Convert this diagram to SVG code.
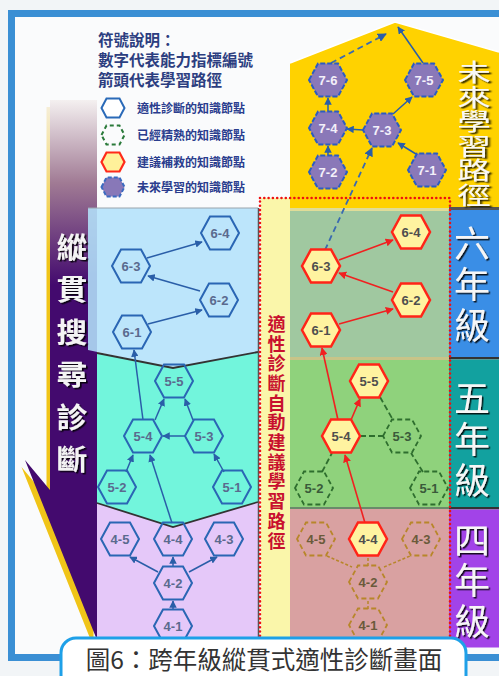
<svg xmlns="http://www.w3.org/2000/svg" width="499" height="676" viewBox="0 0 499 676">
<defs>
<style>
.cjk{font-family:"Noto Sans CJK TC","Noto Sans CJK SC",sans-serif}
.lbl{font-family:"Liberation Sans",Arial,sans-serif;font-size:13px;font-weight:bold;text-anchor:middle}
.hb{fill:none;stroke:#2a66b4;stroke-width:2}
.tb{fill:#5a6a8e}
.hr{fill:#fff3a0;stroke:#ff2418;stroke-width:2.5}
.tr{fill:#4e4e4e}
.hg{fill:none;stroke:#2e6e2e;stroke-width:1.8;stroke-dasharray:5 3}
.tg{fill:#3a5a3a}
.ho{fill:none;stroke:#b8862a;stroke-width:1.8;stroke-dasharray:5 3}
.to{fill:#6a5a3a}
.hp{fill:#8a78b8;stroke:#2c5cc0;stroke-width:2;stroke-dasharray:5 2}
.tp{fill:#f4f0fa}
.cb{stroke:#2a5ea8;stroke-width:1.5;fill:none;marker-end:url(#ab)}
.cr{stroke:#f02020;stroke-width:1.6;fill:none;marker-end:url(#ar)}
.cg{stroke:#2e6e2e;stroke-width:1.8;stroke-dasharray:6 3;fill:none}
.co{stroke:#b8862a;stroke-width:1.5;stroke-dasharray:3 2;fill:none}
.cd{stroke:#3a6ab0;stroke-width:1.8;stroke-dasharray:6 4;fill:none;marker-end:url(#ab)}
.yr{font-size:36px;fill:#f6f6f6;writing-mode:vertical-rl}
.leg{font-size:15.5px;font-weight:bold;fill:#2c3e80}
.legs{font-size:12px;font-weight:bold;fill:#2a3d8e}
</style>
<polygon id="hex" points="-19,0 -10,-16.5 10,-16.5 19,0 10,16.5 -10,16.5"/>
<polygon id="shex" points="-11.5,0 -6.5,-9.5 6.5,-9.5 11.5,0 6.5,9.5 -6.5,9.5"/>
<marker id="ab" viewBox="0 0 10 10" refX="9" refY="5" markerWidth="5" markerHeight="5" orient="auto"><path d="M0,0 L10,5 L0,10 z" fill="#2a5ea8"/></marker>
<marker id="ar" viewBox="0 0 10 10" refX="9" refY="5" markerWidth="5" markerHeight="5" orient="auto"><path d="M0,0 L10,5 L0,10 z" fill="#f02020"/></marker>
<filter id="sh" x="-30%" y="-10%" width="160%" height="120%"><feDropShadow dx="1.5" dy="1.5" stdDeviation="0.6" flood-color="#000" flood-opacity="0.85"/></filter>
<linearGradient id="pg" gradientUnits="userSpaceOnUse" x1="0" y1="100" x2="0" y2="285">
<stop offset="0" stop-color="#f4f0f0"/><stop offset="0.45" stop-color="#a07a94"/><stop offset="1" stop-color="#430a6e"/>
</linearGradient>
<linearGradient id="yg" gradientUnits="userSpaceOnUse" x1="0" y1="100" x2="0" y2="260">
<stop offset="0" stop-color="#f6f0e0"/><stop offset="1" stop-color="#f0c418"/>
</linearGradient>
</defs>

<rect x="0" y="0" width="499" height="676" fill="#f2f5f7"/>
<rect x="11.5" y="13.5" width="492" height="644" fill="#fafbfc" stroke="#3a8fd4" stroke-width="7"/>

<!-- left band -->
<polygon points="46.5,107 93.5,107 93.5,647 21.5,467 46.5,497" fill="url(#yg)"/>
<polygon points="50,100 97,100 97,640 25,460 50,490" fill="url(#pg)"/>

<!-- left panels -->
<polygon points="88,208 258,208 258,352 173,368 88,350" fill="#b3e1fb" fill-opacity="0.88"/>
<line x1="88" y1="208" x2="258" y2="208" stroke="#9aa4ac" stroke-width="1"/>
<polygon points="97,353 173,368 258,352 258,502 173,527 97,503" fill="#72f5dc"/>
<polygon points="97,503 173,527 258,502 258,642 97,642" fill="#e5c8f9"/>
<polyline points="97,353 173,368 258,352" fill="none" stroke="#333" stroke-width="1.8"/>
<polyline points="97,503 173,527 258,502" fill="none" stroke="#333" stroke-width="1.8"/>
<line x1="258.5" y1="208" x2="258.5" y2="642" stroke="#555" stroke-width="1.5"/>

<!-- middle column -->
<rect x="261" y="198" width="29" height="444" fill="#faf6aa"/>

<!-- future pentagon -->
<polygon points="290,63 395,22 499,52 499,208 290,208" fill="#ffd200"/>
<polyline points="290,63 395,22 499,52" fill="none" stroke="#ffffff" stroke-width="1.5"/>

<!-- right panels -->
<rect x="290" y="208" width="159" height="3" fill="#e0dc98"/>
<rect x="290" y="211" width="159" height="146" fill="#a0c8a0"/>
<rect x="290" y="357" width="159" height="3" fill="#c8c488"/>
<rect x="290" y="360" width="159" height="147" fill="#8fd27c"/>
<rect x="290" y="507" width="159" height="2" fill="#6a8a6a"/>
<rect x="290" y="509" width="159" height="133" fill="#d9a1a1"/>

<!-- year column -->
<rect x="449" y="207" width="50" height="3" fill="#555"/>
<rect x="449" y="210" width="50" height="147" fill="#3a8ee6"/>
<rect x="449" y="357" width="50" height="2.5" fill="#333"/>
<rect x="449" y="359.5" width="50" height="147.5" fill="#12a19f"/>
<rect x="449" y="507" width="50" height="2.5" fill="#333"/>
<rect x="449" y="509.5" width="50" height="138" fill="#a243e8"/>

<!-- red dotted frame -->
<rect x="260" y="198" width="190" height="446" fill="none" stroke="#ee1111" stroke-width="2.6" stroke-dasharray="0 4.3" stroke-linecap="round"/>

<!-- texts on bands -->
<text class="cjk" font-size="28" font-weight="bold" fill="#f4f4f4" text-anchor="middle" transform="translate(72,0) scale(1.1,1)" filter="url(#sh)"><tspan x="0" y="257.6">縱</tspan><tspan x="0" y="300">貫</tspan><tspan x="0" y="342.6">搜</tspan><tspan x="0" y="385">尋</tspan><tspan x="0" y="427.6">診</tspan><tspan x="0" y="470">斷</tspan></text>

<text class="cjk" font-size="18" font-weight="bold" fill="#c8102e" writing-mode="vertical-rl" style="letter-spacing:1.7px" x="276.5" y="315">適性診斷自動建議學習路徑</text>

<text class="cjk" font-size="24" fill="#f8f8f8" writing-mode="vertical-rl" style="letter-spacing:0.5px" x="0" y="60" transform="translate(474,0) scale(1.4,1)" filter="url(#sh)">未來學習路徑</text>

<text class="cjk yr" x="472" y="225" style="letter-spacing:5px" filter="url(#sh)">六年級</text>
<text class="cjk yr" x="472" y="380" style="letter-spacing:5px" filter="url(#sh)">五年級</text>
<text class="cjk yr" x="472" y="522" style="letter-spacing:4.5px" filter="url(#sh)">四年級</text>

<!-- legend -->
<g id="legend">
<text class="cjk leg" x="98" y="46">符號說明：</text>
<text class="cjk leg" x="98" y="66">數字代表能力指標編號</text>
<text class="cjk leg" x="98" y="86">箭頭代表學習路徑</text>
<use href="#shex" x="113" y="108" fill="#ffffff" stroke="#2a6ab8" stroke-width="2"/>
<text class="cjk legs" x="137" y="112.5">適性診斷的知識節點</text>
<use href="#shex" x="113" y="135" fill="none" stroke="#2a7a3a" stroke-width="2" stroke-dasharray="4 3"/>
<text class="cjk legs" x="137" y="139.5">已經精熟的知識節點</text>
<use href="#shex" x="113" y="162" fill="#fff19a" stroke="#ff2a1a" stroke-width="2.2"/>
<text class="cjk legs" x="137" y="166.5">建議補救的知識節點</text>
<use href="#shex" x="113" y="187" fill="#8878b8" stroke="#3a6ac0" stroke-width="2" stroke-dasharray="4 2"/>
<text class="cjk legs" x="137" y="191.5">未來學習的知識節點</text>
</g>

<!-- connectors -->
<g id="connectors">
<path class="cb" d="M147,258 L202,242"/>
<path class="cb" d="M200,291 L148,276"/>
<path class="cb" d="M148,324 L202,310"/>
<path class="cb" d="M143,420 L134,350"/>
<path class="cb" d="M172,523 L150,455"/>
<path class="cb" d="M155,420 L164,399"/>
<path class="cb" d="M193,420 L185,399"/>
<path class="cb" d="M185,436 L163,436"/>
<path class="cb" d="M126,472 L133,455"/>
<path class="cb" d="M224,472 L214,454"/>
<path class="cb" d="M158,572 L130,557"/>
<path class="cb" d="M173,566 L173,557"/>
<path class="cb" d="M189,572 L217,557"/>
<path class="cb" d="M173,610 L173,601"/>

<path class="cr" d="M339,260 L393,240"/>
<path class="cr" d="M393,292 L339,273"/>
<path class="cr" d="M339,324 L393,309"/>
<path class="cr" d="M338,420 L322,348"/>
<path class="cr" d="M365,523 L345,455"/>
<path class="cr" d="M351,420 L360,399"/>
<path class="cg" d="M380,397 L393,420"/>
<path class="cg" d="M360,436 L383,436"/>
<path class="cg" d="M322,472 L332,453"/>
<path class="cg" d="M423,472 L411,453"/>
<path class="co" d="M327,556 L352,567"/>
<path class="co" d="M368,566 L368,556"/>
<path class="co" d="M384,567 L410,556"/>
<path class="co" d="M368,609 L368,599"/>
<path class="cd" d="M325,250 L372,148"/>

<path class="cb" d="M328,155 L328,146"/>
<path class="cb" d="M328,111 L328,98"/>
<path class="cb" d="M363,130 L347,129"/>
<path class="cb" d="M416,154 L398,143"/>
<path class="cb" d="M393,114 L412,97"/>
<path class="cd" d="M331,63 L386,34"/>
<path class="cb" d="M423,63 L398,27"/>
</g>

<!-- left nodes -->
<g id="L6-4"><use href="#hex" x="220" y="233" class="hb"/><text class="lbl tb" x="220" y="237.7">6-4</text></g>
<g id="L6-3"><use href="#hex" x="131" y="266" class="hb"/><text class="lbl tb" x="131" y="270.7">6-3</text></g>
<g id="L6-2"><use href="#hex" x="219" y="300" class="hb"/><text class="lbl tb" x="219" y="304.7">6-2</text></g>
<g id="L6-1"><use href="#hex" x="132" y="332" class="hb"/><text class="lbl tb" x="132" y="336.7">6-1</text></g>
<g id="L5-5"><use href="#hex" x="174" y="381" class="hb"/><text class="lbl tb" x="174" y="385.7">5-5</text></g>
<g id="L5-4"><use href="#hex" x="143" y="436" class="hb"/><text class="lbl tb" x="143" y="440.7">5-4</text></g>
<g id="L5-3"><use href="#hex" x="204" y="436" class="hb"/><text class="lbl tb" x="204" y="440.7">5-3</text></g>
<g id="L5-2"><use href="#hex" x="117" y="487" class="hb"/><text class="lbl tb" x="117" y="491.7">5-2</text></g>
<g id="L5-1"><use href="#hex" x="232" y="487" class="hb"/><text class="lbl tb" x="232" y="491.7">5-1</text></g>
<g id="L4-5"><use href="#hex" x="120" y="539" class="hb"/><text class="lbl tb" x="120" y="543.7">4-5</text></g>
<g id="L4-4"><use href="#hex" x="173" y="539" class="hb"/><text class="lbl tb" x="173" y="543.7">4-4</text></g>
<g id="L4-3"><use href="#hex" x="224" y="539" class="hb"/><text class="lbl tb" x="224" y="543.7">4-3</text></g>
<g id="L4-2"><use href="#hex" x="173" y="583" class="hb"/><text class="lbl tb" x="173" y="587.7">4-2</text></g>
<g id="L4-1"><use href="#hex" x="173" y="626" class="hb"/><text class="lbl tb" x="173" y="630.7">4-1</text></g>

<!-- right nodes -->
<g id="R6-4"><use href="#hex" x="411" y="232" class="hr"/><text class="lbl tr" x="411" y="236.7">6-4</text></g>
<g id="R6-3"><use href="#hex" x="321" y="266" class="hr"/><text class="lbl tr" x="321" y="270.7">6-3</text></g>
<g id="R6-2"><use href="#hex" x="411" y="300" class="hr"/><text class="lbl tr" x="411" y="304.7">6-2</text></g>
<g id="R6-1"><use href="#hex" x="321" y="330" class="hr"/><text class="lbl tr" x="321" y="334.7">6-1</text></g>
<g id="R5-5"><use href="#hex" x="369" y="381" class="hr"/><text class="lbl tr" x="369" y="385.7">5-5</text></g>
<g id="R5-4"><use href="#hex" x="341" y="436" class="hr"/><text class="lbl tr" x="341" y="440.7">5-4</text></g>
<g id="R5-3"><use href="#hex" x="402" y="436" class="hg"/><text class="lbl tg" x="402" y="440.7">5-3</text></g>
<g id="R5-2"><use href="#hex" x="314" y="488" class="hg"/><text class="lbl tg" x="314" y="492.7">5-2</text></g>
<g id="R5-1"><use href="#hex" x="429" y="488" class="hg"/><text class="lbl tg" x="429" y="492.7">5-1</text></g>
<g id="R4-5"><use href="#hex" x="316" y="539" class="ho"/><text class="lbl to" x="316" y="543.7">4-5</text></g>
<g id="R4-4"><use href="#hex" x="368" y="539" class="hr"/><text class="lbl tr" x="368" y="543.7">4-4</text></g>
<g id="R4-3"><use href="#hex" x="421" y="539" class="ho"/><text class="lbl to" x="421" y="543.7">4-3</text></g>
<g id="R4-2"><use href="#hex" x="368" y="582" class="ho"/><text class="lbl to" x="368" y="586.7">4-2</text></g>
<g id="R4-1"><use href="#hex" x="368" y="625" class="ho"/><text class="lbl to" x="368" y="629.7">4-1</text></g>

<!-- future nodes -->
<g id="F7-6"><use href="#hex" x="328" y="80" class="hp"/><text class="lbl tp" x="328" y="84.7">7-6</text></g>
<g id="F7-5"><use href="#hex" x="424" y="80" class="hp"/><text class="lbl tp" x="424" y="84.7">7-5</text></g>
<g id="F7-4"><use href="#hex" x="328" y="128" class="hp"/><text class="lbl tp" x="328" y="132.7">7-4</text></g>
<g id="F7-3"><use href="#hex" x="382" y="130" class="hp"/><text class="lbl tp" x="382" y="134.7">7-3</text></g>
<g id="F7-2"><use href="#hex" x="328" y="172" class="hp"/><text class="lbl tp" x="328" y="176.7">7-2</text></g>
<g id="F7-1"><use href="#hex" x="427" y="170" class="hp"/><text class="lbl tp" x="427" y="174.7">7-1</text></g>

<!-- caption -->
<g id="caption">
<rect x="61" y="638" width="405" height="52" rx="15" fill="#ffffff" stroke="#1ea0e8" stroke-width="3"/>
<text class="cjk" x="264" y="668.5" font-size="24.5" fill="#333" text-anchor="middle">圖6：跨年級縱貫式適性診斷畫面</text>
</g>
</svg>
